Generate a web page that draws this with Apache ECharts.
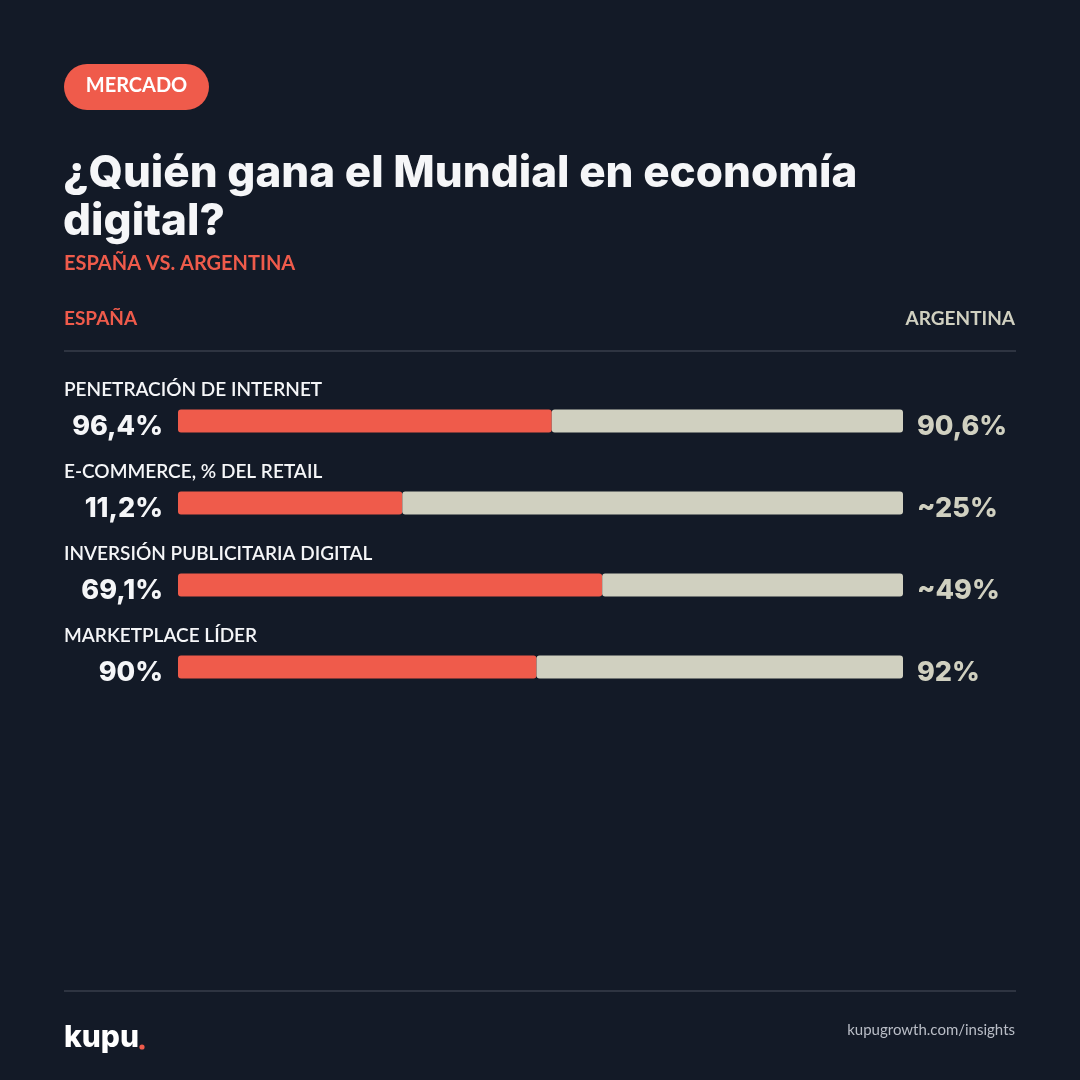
<!DOCTYPE html>
<html>
<head>
<meta charset="utf-8">
<style>
html,body{margin:0;padding:0;background:#131a27;}
#chart{width:1080px;height:1080px;}
</style>
<script src="https://cdn.jsdelivr.net/npm/echarts@6/dist/echarts.min.js"></script>
</head>
<body>
<div id="chart"></div>
<script>
const categories = ['PENETRACIÓN DE INTERNET', 'E-COMMERCE, % DEL RETAIL', 'INVERSIÓN PUBLICITARIA DIGITAL', 'MARKETPLACE LÍDER'];
const espana = [96.4, 11.2, 69.1, 90];
const argentina = [90.6, 25, 49, 92];
const espanaLabels = ['96,4%', '11,2%', '69,1%', '90%'];
const argentinaLabels = ['90,6%', '~25%', '~49%', '92%'];

const RED = '#ef5b4b';
const BEIGE = '#d0d0c0';
const WHITE = '#f5f6f8';
const BG = '#131a27';
const LINE = '#2e3441';

const espanaShare = espana.map((v, i) => v / (v + argentina[i]) * 100);
const argentinaShare = argentina.map((v, i) => v / (v + espana[i]) * 100);

const chart = echarts.init(document.getElementById('chart'), null, {renderer: 'canvas'});

const valueFont = 'Inter';
const option = {
  backgroundColor: BG,
  animation: false,
  grid: {left: 178, right: 177, top: 380, height: 328},
  xAxis: {type: 'value', min: 0, max: 100, show: false},
  yAxis: {type: 'category', data: categories, inverse: true, show: false},
  series: [
    {
      name: 'España', type: 'bar', stack: 'total', barWidth: 23,
      data: espanaShare,
      itemStyle: {color: RED, borderRadius: 3},
      label: {
        show: true, position: 'left', distance: 15, offset: [0, 6],
        formatter: p => espanaLabels[p.dataIndex],
        color: WHITE, fontFamily: valueFont, fontWeight: 800, fontSize: 27
      }
    },
    {
      name: 'Argentina', type: 'bar', stack: 'total', barWidth: 23,
      data: argentinaShare,
      itemStyle: {color: BEIGE, borderRadius: 3},
      label: {
        show: true, position: 'right', distance: 14, offset: [0, 6],
        formatter: p => argentinaLabels[p.dataIndex],
        color: BEIGE, fontFamily: valueFont, fontWeight: 800, fontSize: 27
      }
    },
    {
      name: 'cat', type: 'bar', barWidth: 23, barGap: '-100%', silent: true,
      data: categories.map(() => 100),
      itemStyle: {color: 'rgba(0,0,0,0)'},
      label: {
        show: true, position: [-114, -20], align: 'left', verticalAlign: 'middle',
        formatter: p => categories[p.dataIndex],
        color: WHITE, fontFamily: 'Lato', fontWeight: 600, fontSize: 19
      }
    }
  ],
  graphic: [
    {type: 'rect', shape: {x: 64, y: 64, width: 145, height: 46, r: 23}, style: {fill: RED}},
    {type: 'text', x: 136.5, y: 86, style: {text: 'MERCADO', fill: '#ffffff', font: 'bold 20px Lato', textAlign: 'center', textVerticalAlign: 'middle'}},
    {type: 'text', x: 63, y: 174, style: {text: '¿Quién gana el Mundial en economía', fill: WHITE, font: '800 44px Inter', textAlign: 'left', textVerticalAlign: 'middle'}},
    {type: 'text', x: 63, y: 222, style: {text: 'digital?', fill: WHITE, font: '800 44px Inter', textAlign: 'left', textVerticalAlign: 'middle'}},
    {type: 'text', x: 64, y: 264, style: {text: 'ESPAÑA VS. ARGENTINA', fill: RED, font: 'bold 20px Lato', textAlign: 'left', textVerticalAlign: 'middle'}},
    {type: 'text', x: 64, y: 319, style: {text: 'ESPAÑA', fill: RED, font: 'bold 19px Lato', textAlign: 'left', textVerticalAlign: 'middle'}},
    {type: 'text', x: 1015, y: 319, style: {text: 'ARGENTINA', fill: BEIGE, font: 'bold 19px Lato', textAlign: 'right', textVerticalAlign: 'middle'}},
    {type: 'rect', shape: {x: 64, y: 350, width: 952, height: 2}, style: {fill: LINE}},
    {type: 'rect', shape: {x: 64, y: 990, width: 952, height: 2}, style: {fill: LINE}},
    {type: 'text', x: 64, y: 1038, style: {text: 'kupu', fill: '#ffffff', font: '800 30px Inter', textAlign: 'left', textVerticalAlign: 'middle'}},
    {type: 'circle', shape: {cx: 142, cy: 1047, r: 2.6}, style: {fill: RED}},
    {type: 'text', x: 1015, y: 1030, style: {text: 'kupugrowth.com/insights', fill: '#b9bdc6', font: '15px Lato', textAlign: 'right', textVerticalAlign: 'middle'}}
  ]
};
chart.setOption(option);
</script>
</body>
</html>
